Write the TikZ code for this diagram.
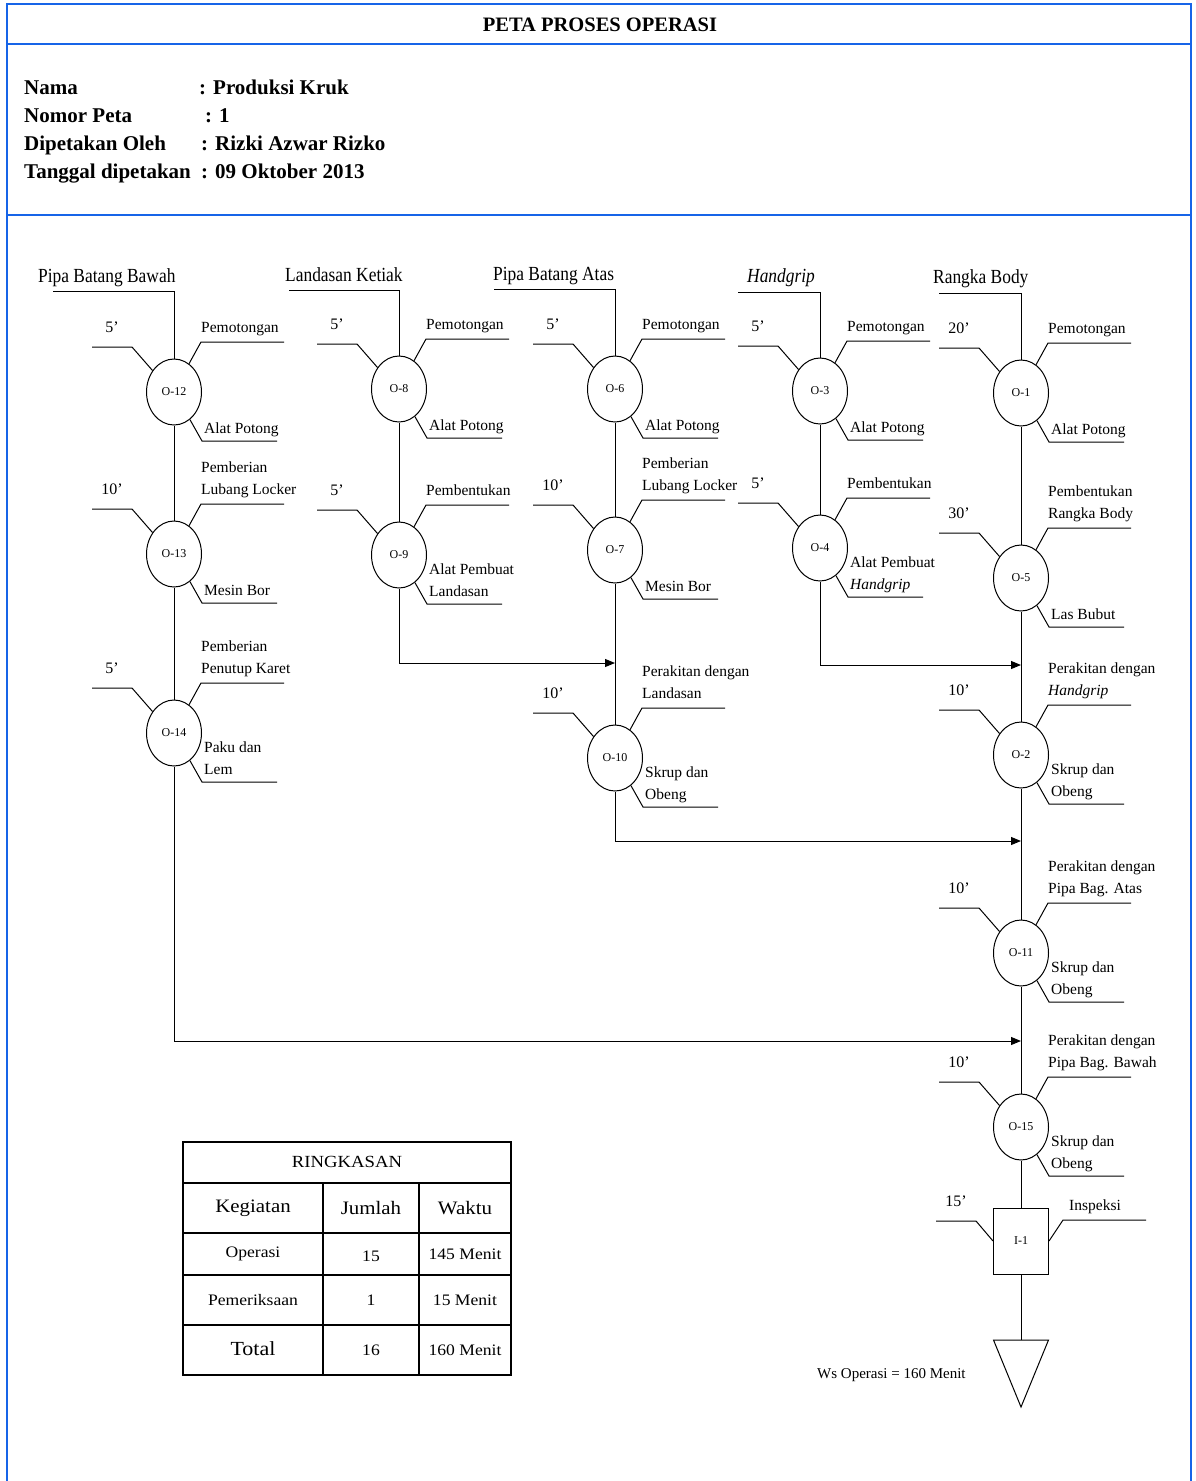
\documentclass[tikz,border=0pt]{standalone}
\usepackage{fontspec}
\setmainfont{Liberation Serif}
\newfontfamily\tfont[FakeStretch=0.87]{Liberation Serif}
\newfontfamily\wfont[FakeStretch=1.1]{Liberation Serif}
\usetikzlibrary{shapes.geometric,arrows.meta,calc}
\definecolor{frameblue}{RGB}{22,100,232}
\tikzset{
  opnode/.style={ellipse, draw, line width=1pt, minimum width=55pt, minimum height=66pt, inner sep=0pt, font=\fontsize{12}{14}\selectfont},
  lead/.style={line width=1pt},
  lbl/.style={anchor=south west, inner sep=0pt, align=left, font=\fontsize{15.5}{22}\selectfont},
  tlbl/.style={anchor=base, inner sep=0pt, font=\fontsize{16}{18}\selectfont},
  ttl/.style={anchor=base west, inner sep=0pt, font=\tfont\fontsize{20}{22}\selectfont},
  flow/.style={line width=1pt, -{Triangle[length=10pt,width=8pt]}},
  frameline/.style={draw=frameblue, line width=1.5pt},
  hdr/.style={anchor=base west, inner sep=0pt, font=\bfseries\fontsize{21}{24}\selectfont},
  tbl/.style={line width=1.2pt},
  tcell/.style={inner sep=0pt, font=\wfont\fontsize{16}{18}\selectfont},
}
\newcommand{\opr}[7]{%
  \node[opnode] (#1) at (#2,#3) {#4};
  \coordinate (#1a) at ($(#1)+(-42,-45)$);
  \coordinate (#1b) at ($(#1)+(27,-50)$);
  \coordinate (#1c) at ($(#1)+(28,49)$);
  \draw[lead] (#1.135) -- (#1a) -- ++(-40,0);
  \draw[lead] (#1.62) -- (#1b) -- ++(83,0);
  \draw[lead] (#1.300) -- (#1c) -- ++(75,0);
  \node[tlbl] (#1t) at ($(#1a)+(-20,-15)$) {#5};
  \node[lbl] (#1u) at ($(#1b)+(0,-2.4)$) {#6\strut};
  \node[lbl] (#1l) at ($(#1c)+(2,-0.5)$) {#7\strut};
}
\begin{document}
\begin{tikzpicture}[x=1pt,y=-1pt]
\useasboundingbox (0,0) rectangle (1195,1481);
% frame
\draw[frameline] (7,1481) -- (7,4) -- (1191,4) -- (1191,1481);
\draw[frameline] (7,44) -- (1191,44);
\draw[frameline] (7,215) -- (1191,215);
\node[font=\bfseries\fontsize{20.5}{24}\selectfont, inner sep=0pt] (title) at (600,25) {PETA PROSES OPERASI};
\node[hdr] (h1) at (24,94) {Nama};
\node[hdr] (h1v) at (199,94) {: Produksi Kruk};
\node[hdr] (h2) at (24,122) {Nomor Peta};
\node[hdr] (h2v) at (205,122) {: 1};
\node[hdr] (h3) at (24,150) {Dipetakan Oleh};
\node[hdr] (h3v) at (201,150) {: Rizki Azwar Rizko};
\node[hdr] (h4) at (24,178) {Tanggal dipetakan};
\node[hdr] (h4v) at (201,178) {: 09 Oktober 2013};

% operations
\opr{O12}{174}{392}{O-12}{5'}{Pemotongan}{Alat Potong}
\opr{O13}{174}{554}{O-13}{10'}{Pemberian\\Lubang Locker}{Mesin Bor}
\opr{O14}{174}{733}{O-14}{5'}{Pemberian\\Penutup Karet}{Paku dan\\Lem}
\opr{O8}{399}{389}{O-8}{5'}{Pemotongan}{Alat Potong}
\opr{O9}{399}{555}{O-9}{5'}{Pembentukan}{Alat Pembuat\\Landasan}
\opr{O6}{615}{389}{O-6}{5'}{Pemotongan}{Alat Potong}
\opr{O7}{615}{550}{O-7}{10'}{Pemberian\\Lubang Locker}{Mesin Bor}
\opr{O10}{615}{758}{O-10}{10'}{Perakitan dengan\\Landasan}{Skrup dan\\Obeng}
\opr{O3}{820}{391}{O-3}{5'}{Pemotongan}{Alat Potong}
\opr{O4}{820}{548}{O-4}{5'}{Pembentukan}{Alat Pembuat\\\textit{Handgrip}}
\opr{O1}{1021}{393}{O-1}{20'}{Pemotongan}{Alat Potong}
\opr{O5}{1021}{578}{O-5}{30'}{Pembentukan\\Rangka Body}{Las Bubut}
\opr{O2}{1021}{755}{O-2}{10'}{Perakitan dengan\\\textit{Handgrip}}{Skrup dan\\Obeng}
\opr{O11}{1021}{953}{O-11}{10'}{Perakitan dengan\\Pipa Bag. Atas}{Skrup dan\\Obeng}
\opr{O15}{1021}{1127}{O-15}{10'}{Perakitan dengan\\Pipa Bag. Bawah}{Skrup dan\\Obeng}

% material titles
\node[ttl] (T1) at (38,282) {Pipa Batang Bawah};
\coordinate (T1a) at (53,291);
\draw[lead] (T1a) -- (T1a -| O12) -- (O12.north);
\node[ttl] (T2) at (285,281) {Landasan Ketiak};
\coordinate (T2a) at (289,290);
\draw[lead] (T2a) -- (T2a -| O8) -- (O8.north);
\node[ttl] (T3) at (493,280) {Pipa Batang Atas};
\coordinate (T3a) at (494,289);
\draw[lead] (T3a) -- (T3a -| O6) -- (O6.north);
\node[ttl] (T4) at (747,282) {\itshape Handgrip};
\coordinate (T4a) at (738,292);
\draw[lead] (T4a) -- (T4a -| O3) -- (O3.north);
\node[ttl] (T5) at (933,283) {Rangka Body};
\coordinate (T5a) at (939,293);
\draw[lead] (T5a) -- (T5a -| O1) -- (O1.north);

% vertical flow lines
\draw[lead] (O12.south) -- (O13.north);
\draw[lead] (O13.south) -- (O14.north);
\draw[lead] (O8.south) -- (O9.north);
\draw[lead] (O6.south) -- (O7.north);
\draw[lead] (O7.south) -- (O10.north);
\draw[lead] (O3.south) -- (O4.north);
\draw[lead] (O1.south) -- (O5.north);
\draw[lead] (O5.south) -- (O2.north);
\draw[lead] (O2.south) -- (O11.north);
\draw[lead] (O11.south) -- (O15.north);

% joining arrows
\coordinate (m1) at (615,663);
\draw[flow] (O9.south) |- (m1);
\coordinate (m2) at (1021,665);
\draw[flow] (O4.south) |- (m2);
\coordinate (m3) at (1021,841);
\draw[flow] (O10.south) |- (m3);
\coordinate (m4) at (1021,1041);
\draw[flow] (O14.south) |- (m4);

% inspection
\node[draw, line width=1pt, minimum width=55pt, minimum height=66pt, inner sep=0pt, font=\fontsize{12}{14}\selectfont] (I1) at (1021,1241) {I-1};
\draw[lead] (O15.south) -- (I1.north);
\coordinate (I1a) at ($(I1)+(-45,-20)$);
\draw[lead] (I1.west) -- (I1a) -- ++(-40,0);
\node[tlbl] (I1t) at ($(I1a)+(-20,-15)$) {15'};
\coordinate (I1b) at ($(I1)+(42,-21)$);
\draw[lead] (I1.east) -- (I1b) -- ++(83,0);
\node[lbl] (I1u) at ($(I1b)+(6,-2.4)$) {Inspeksi\strut};

% storage
\coordinate (S) at (1021,1340);
\draw[lead] (I1.south) -- (S);
\draw[lead] (S) ++(-27.5,0) -- ++(55,0) -- ++(-27.5,67) -- cycle;
\node[anchor=base west, inner sep=0pt, font=\fontsize{15}{17}\selectfont] (ws) at (817,1378) {Ws Operasi = 160 Menit};

% summary table
\draw[tbl] (183,1142) rectangle (511,1375);
\draw[tbl] (183,1183) -- (511,1183);
\draw[tbl] (183,1233) -- (511,1233);
\draw[tbl] (183,1275) -- (511,1275);
\draw[tbl] (183,1325) -- (511,1325);
\draw[tbl] (323,1183) -- (323,1375);
\draw[tbl] (419,1183) -- (419,1375);
\node[tcell, font=\wfont\fontsize{17}{19}\selectfont] (r0) at (347,1162) {RINGKASAN};
\node[tcell, font=\wfont\fontsize{19}{21}\selectfont] (r1a) at (253,1208) {Kegiatan};
\node[tcell, font=\wfont\fontsize{19}{21}\selectfont] (r1b) at (371,1208) {Jumlah};
\node[tcell, font=\wfont\fontsize{19}{21}\selectfont] (r1c) at (465,1208) {Waktu};
\node[tcell] (r2a) at (253,1254) {Operasi};
\node[tcell] (r2b) at (371,1256) {15};
\node[tcell] (r2c) at (465,1254) {145 Menit};
\node[tcell] (r3a) at (253,1300) {Pemeriksaan};
\node[tcell] (r3b) at (371,1300) {1};
\node[tcell] (r3c) at (465,1300) {15 Menit};
\node[tcell, font=\wfont\fontsize{20}{22}\selectfont] (r4a) at (253,1349) {Total};
\node[tcell] (r4b) at (371,1350) {16};
\node[tcell] (r4c) at (465,1350) {160 Menit};
\end{tikzpicture}
\end{document}
